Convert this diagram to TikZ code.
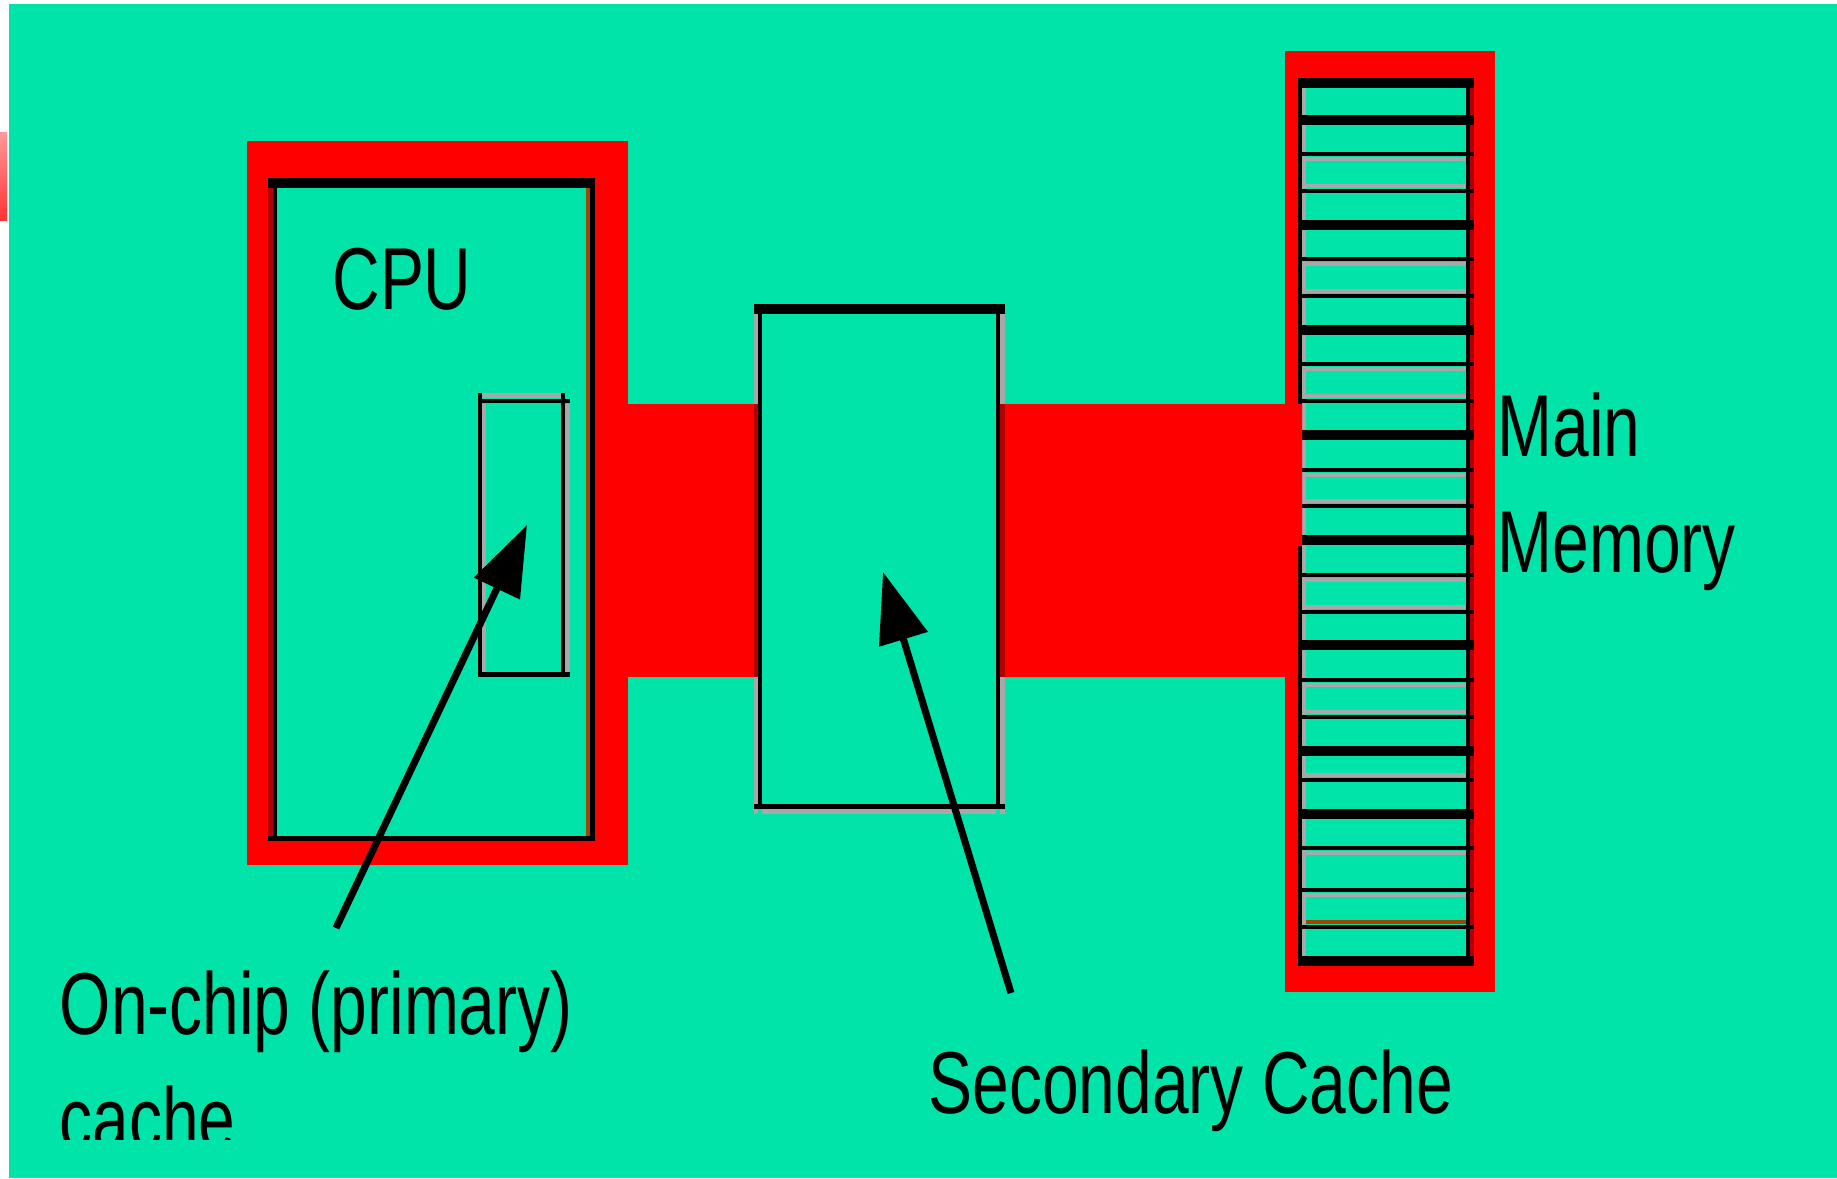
\documentclass[tikz,border=0pt]{standalone}
\usepackage{fontspec}
\newfontfamily\lblfont[FakeStretch=0.75]{Liberation Sans}
\usetikzlibrary{arrows.meta}
\definecolor{board}{RGB}{0,228,169}
\definecolor{bus}{RGB}{255,0,0}
\definecolor{rim}{RGB}{168,168,168}
\definecolor{rust}{RGB}{160,72,0}
\definecolor{deepred}{RGB}{176,0,0}

\begin{document}
\begin{tikzpicture}[
    x=0.01cm, y=-0.01cm,
    lbl/.style={font=\lblfont\fontsize{25}{30}\selectfont, inner sep=0pt, anchor=base west},
    hard/.style={line width=2.85pt},
    soft/.style={line width=1.4pt},
    pointer/.style={line width=2pt, -{Triangle[length=20pt, width=14pt]}}]
  \useasboundingbox (0,0) rectangle (1837,1178);
  \fill[white] (0,0) rectangle (1837,1178);
  \fill[board] (9,4) rectangle (1837,1178);
  \shade[top color=red!40, bottom color=red!80] (0,132) rectangle (7,220);

  % CPU with primary cache
  \fill[bus] (247,141) rectangle (628,865);
  \fill[board] (268,178) rectangle (595,841);
  \draw[hard] (268,183) -- (595,183);
  \draw[soft, deepred] (270.5,188) -- (270.5,841);
  \draw[soft] (275,188) -- (275,841);
  \draw[soft, rust] (588,188) -- (588,836);
  \draw[soft] (592.5,178) -- (592.5,841);
  \draw[soft] (268,838.5) -- (595,838.5);
  \draw[soft, rim] (482,395.5) -- (561,395.5);
  \draw[soft] (478,401) -- (570,401);
  \draw[soft] (480,393) -- (480,677);
  \draw[soft, rim] (484,404) -- (484,672);
  \draw[soft] (563,393) -- (563,677);
  \draw[soft, rim] (567.5,404) -- (567.5,672);
  \draw[soft] (478,674.5) -- (570,674.5);

  % secondary cache
  \draw[hard] (754,309) -- (1005,309);
  \draw[soft, rim] (756,314) -- (756,814);
  \draw[soft] (760,314) -- (760,809);
  \draw[soft] (998,314) -- (998,809);
  \draw[soft, rim] (1002.5,314) -- (1002.5,814);
  \draw[soft] (754,806.5) -- (1005,806.5);
  \draw[soft, rim] (762,811.5) -- (996,811.5);

  % main memory
  \fill[bus] (1285,51) rectangle (1495,992);
  \fill[board] (1300,80) rectangle (1470,961);
  \draw[soft] (1300,78) -- (1300,966);
  \draw[soft, rim] (1304,88) -- (1304,956);
  \draw[soft] (1468,78) -- (1468,966);
  \draw[soft, deepred] (1472,88) -- (1472,956);
  \draw[hard] (1298,83) -- (1474,83);
  \foreach \y in {120,225,330,435,540,645,751,814,961}
    \draw[hard] (1302,\y) -- (1474,\y);
  \foreach \c/\g in {156.5/2.5, 188.5/-2.5, 261.5/2.5, 293.5/-2.5, 366.5/2.5,
      398.5/-2.5, 472.5/2.5, 503.5/-2.5, 577.5/2.5, 609.5/-2.5, 682.5/2.5,
      714.5/-2.5, 777.5/-2.5, 850.5/2.5, 892.5/2.5} {
    \draw[soft] (1302,{\c-(\g)}) -- (1474,{\c-(\g)});
    \draw[soft, rim] (1306,{\c+(\g)}) -- (1466,{\c+(\g)});
  }
  \draw[soft, rust] (1306,922) -- (1466,922);
  \draw[soft] (1302,927) -- (1474,927);

  % buses
  \fill[bus] (628,404) rectangle (754,677);
  \draw[soft, deepred] (756,404) -- (756,677);
  \fill[bus] (1005,404) -- (1302,404) -- (1302,546) -- (1298,546)
    -- (1298,677) -- (1005,677) -- cycle;
  \draw[soft, deepred] (1002.5,404) -- (1002.5,677);

  % labels
  \node[lbl, anchor=base] (cpulbl) at (402,309) {CPU};
  \node[lbl] (onchiplbl) at (59,1034) {On-chip (primary)};
  \begin{scope}
    \clip (0,0) rectangle (1837,1139);
    \node[lbl] (cachelbl) at (59,1149) {cache};
  \end{scope}
  \node[lbl] (seclbl) at (928,1113) {Secondary Cache};
  \node[lbl] (mainlbl) at (1497,456) {Main};
  \node[lbl] (memlbl) at (1497,572) {Memory};

  % pointers
  \coordinate (onchiptail) at (336,928);
  \coordinate (onchiptip) at (527,525);
  \coordinate (sectail) at (1011,993);
  \coordinate (sectip) at (883,572);
  \draw[pointer] (onchiptail) -- (onchiptip);
  \draw[pointer] (sectail) -- (sectip);
\end{tikzpicture}
\end{document}
